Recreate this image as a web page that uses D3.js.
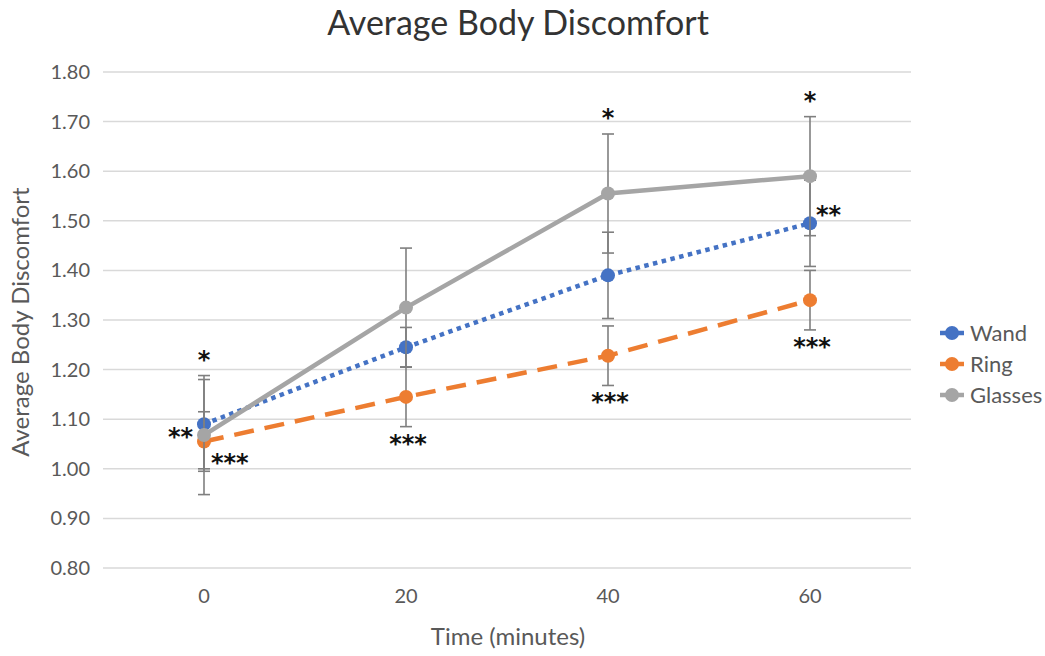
<!DOCTYPE html>
<html>
<head>
<meta charset="utf-8">
<script src="https://cdn.jsdelivr.net/npm/d3@7"></script>
<style>
  body { margin: 0; background: #fff; }
  text { font-family: Lato, "Open Sans", sans-serif; }
</style>
</head>
<body>
<div id="chart"></div>
<script>
// Chart values
const times = ["0", "20", "40", "60"];
const seriesNames = ["Wand", "Ring", "Glasses"];
const wandValues = [1.09, 1.245, 1.39, 1.495];
const ringValues = [1.055, 1.145, 1.228, 1.34];
const glassesValues = [1.068, 1.325, 1.555, 1.59];
const wandErrors = [0.09, 0.04, 0.087, 0.087];
const ringErrors = [0.06, 0.06, 0.06, 0.06];
const glassesErrors = [0.12, 0.12, 0.12, 0.12];
const yTicks = [0.8, 0.9, 1.0, 1.1, 1.2, 1.3, 1.4, 1.5, 1.6, 1.7, 1.8];

// significance marks: which series / time point, and where they sit
const annotations = [
  { series: "Glasses", index: 0, text: "*", side: "above" },
  { series: "Glasses", index: 2, text: "*", side: "above" },
  { series: "Glasses", index: 3, text: "*", side: "above" },
  { series: "Wand", index: 0, text: "**", side: "left" },
  { series: "Wand", index: 3, text: "**", side: "right" },
  { series: "Ring", index: 0, text: "***", side: "rightBelow" },
  { series: "Ring", index: 1, text: "***", side: "below" },
  { series: "Ring", index: 2, text: "***", side: "below" },
  { series: "Ring", index: 3, text: "***", side: "below" }
];

const series = [
  { name: "Wand", values: wandValues, errors: wandErrors, color: "#4472c4", dash: "4.5,4.5" },
  { name: "Ring", values: ringValues, errors: ringErrors, color: "#ed7d31", dash: "20,11" },
  { name: "Glasses", values: glassesValues, errors: glassesErrors, color: "#a5a5a5", dash: null }
];

const W = 1045, H = 656;
const plot = { left: 103, right: 911, top: 72, bottom: 568 };

const svg = d3.select("#chart").append("svg")
  .attr("width", W)
  .attr("height", H);

const x = d3.scaleBand()
  .domain(times)
  .range([plot.left, plot.right]);
const cx = t => x(t) + x.bandwidth() / 2;

const y = d3.scaleLinear()
  .domain([0.8, 1.8])
  .range([plot.bottom, plot.top]);

// Title
svg.append("text")
  .attr("x", 518)
  .attr("y", 35)
  .attr("text-anchor", "middle")
  .attr("font-size", "34px")
  .attr("fill", "#333")
  .text("Average Body Discomfort");

// Gridlines
svg.append("g")
  .selectAll("line")
  .data(yTicks)
  .join("line")
  .attr("x1", plot.left)
  .attr("x2", plot.right)
  .attr("y1", d => y(d))
  .attr("y2", d => y(d))
  .attr("stroke", "#d9d9d9")
  .attr("stroke-width", 1.5);

// Y axis
const yAxisG = svg.append("g")
  .attr("transform", `translate(${plot.left},0)`)
  .call(d3.axisLeft(y).tickValues(yTicks).tickFormat(d3.format(".2f")).tickSize(0).tickPadding(13));
yAxisG.select(".domain").remove();
yAxisG.selectAll("text")
  .attr("font-size", "20px")
  .attr("fill", "#595959")
  .style("font-family", "Lato, sans-serif");

// X axis
const xAxisG = svg.append("g")
  .attr("transform", `translate(0,${plot.bottom})`)
  .call(d3.axisBottom(x).tickSize(0).tickPadding(21));
xAxisG.select(".domain").remove();
xAxisG.selectAll("text")
  .attr("font-size", "20px")
  .attr("fill", "#595959")
  .style("font-family", "Lato, sans-serif");

// Axis titles
svg.append("text")
  .attr("x", 508)
  .attr("y", 645)
  .attr("text-anchor", "middle")
  .attr("font-size", "24px")
  .attr("fill", "#595959")
  .text("Time (minutes)");

svg.append("text")
  .attr("transform", "translate(29,322) rotate(-90)")
  .attr("text-anchor", "middle")
  .attr("font-size", "24px")
  .attr("fill", "#595959")
  .text("Average Body Discomfort");

// Series
const line = d3.line()
  .x((d, i) => cx(times[i]))
  .y(d => y(d));

series.forEach(s => {
  const g = svg.append("g").attr("class", "series");

  g.append("path")
    .datum(s.values)
    .attr("d", line)
    .attr("fill", "none")
    .attr("stroke", s.color)
    .attr("stroke-width", 4.5)
    .attr("stroke-dasharray", s.dash);

  // error bars
  const eb = g.selectAll(".err")
    .data(s.values.map((v, i) => ({ t: times[i], v, e: s.errors[i] })))
    .join("g")
    .attr("class", "err")
    .attr("stroke", "#7f7f7f")
    .attr("stroke-width", 1.6);
  eb.append("line")
    .attr("x1", d => cx(d.t)).attr("x2", d => cx(d.t))
    .attr("y1", d => y(d.v + d.e)).attr("y2", d => y(d.v - d.e));
  eb.append("line")
    .attr("x1", d => cx(d.t) - 6).attr("x2", d => cx(d.t) + 6)
    .attr("y1", d => y(d.v + d.e)).attr("y2", d => y(d.v + d.e));
  eb.append("line")
    .attr("x1", d => cx(d.t) - 6).attr("x2", d => cx(d.t) + 6)
    .attr("y1", d => y(d.v - d.e)).attr("y2", d => y(d.v - d.e));

  g.selectAll("circle")
    .data(s.values)
    .join("circle")
    .attr("cx", (d, i) => cx(times[i]))
    .attr("cy", d => y(d))
    .attr("r", 7)
    .attr("fill", s.color);
});

// Significance marks (p gives the centre of the glyphs)
const placement = {
  above:      (px, top, bot, py) => ({ x: px, y: top - 21, anchor: "middle" }),
  below:      (px, top, bot, py) => ({ x: px + 2, y: bot + 12, anchor: "middle" }),
  left:       (px, top, bot, py) => ({ x: px - 11, y: py + 8, anchor: "end" }),
  right:      (px, top, bot, py) => ({ x: px + 6, y: py - 13, anchor: "start" }),
  rightBelow: (px, top, bot, py) => ({ x: px + 7, y: py + 16, anchor: "start" })
};

annotations.forEach(a => {
  const s = series.find(d => d.name === a.series);
  const v = s.values[a.index], e = s.errors[a.index];
  const p = placement[a.side](cx(times[a.index]), y(v + e), y(v - e), y(v));
  svg.append("text")
    .attr("x", p.x)
    .attr("y", p.y + 13)
    .attr("text-anchor", p.anchor)
    .attr("font-size", "24px")
    .attr("font-weight", "bold")
    .style("font-family", "'DejaVu Sans', sans-serif")
    .attr("fill", "#111")
    .text(a.text);
});

// Legend
const legend = svg.append("g")
  .attr("transform", "translate(940,333)");
const items = legend.selectAll("g")
  .data(series)
  .join("g")
  .attr("transform", (d, i) => `translate(0,${i * 31})`);
items.append("line")
  .attr("x1", 0).attr("x2", 24)
  .attr("stroke", d => d.color)
  .attr("stroke-width", 4.5);
items.append("circle")
  .attr("cx", 12)
  .attr("r", 7)
  .attr("fill", d => d.color);
items.append("text")
  .attr("x", 30)
  .attr("y", 8)
  .attr("font-size", "22px")
  .attr("fill", "#595959")
  .text(d => d.name);
</script>
</body>
</html>
